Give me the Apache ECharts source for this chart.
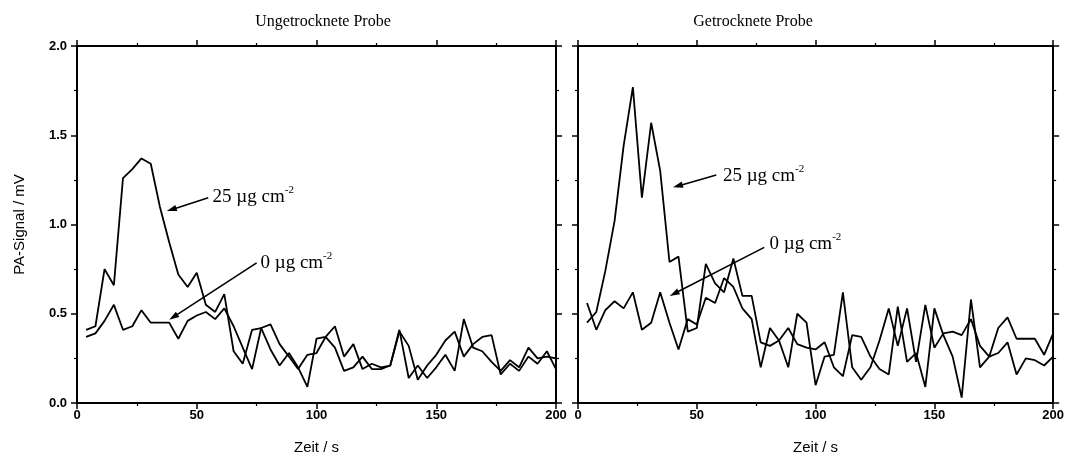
<!DOCTYPE html>
<html><head><meta charset="utf-8">
<script src="https://cdn.jsdelivr.net/npm/echarts@6/dist/echarts.min.js"></script>
<style>html,body{margin:0;padding:0;background:#fff}#c{width:1067px;height:463px}</style>
</head><body><div id="c"></div>
<script>
// Zeit / s (shared sampling grid)
const zeit = [3.8, 7.7, 11.5, 15.4, 19.2, 23.1, 26.9, 30.8, 34.6, 38.5, 42.3, 46.2, 50.0, 53.8, 57.7, 61.5, 65.4, 69.2, 73.1, 76.9,
  80.8, 84.6, 88.5, 92.3, 96.2, 100.0, 103.8, 107.7, 111.5, 115.4, 119.2, 123.1, 126.9, 130.8, 134.6, 138.5, 142.3, 146.2, 150.0, 153.8,
  157.7, 161.5, 165.4, 169.2, 173.1, 176.9, 180.8, 184.6, 188.5, 192.3, 196.2, 200.0];
// Ungetrocknete Probe
const ungetrocknet25 = [0.41,0.43,0.75,0.66,1.26,1.31,1.37,1.34,1.10,0.90, 0.72,0.65,0.73,0.55,0.51,0.61,0.29,0.22,0.41,0.42,
  0.30,0.21,0.28,0.20,0.09,0.36,0.37,0.43,0.26,0.33, 0.19,0.22,0.20,0.21,0.40,0.32,0.13,0.21,0.27,0.35,
  0.40,0.26,0.33,0.37,0.38,0.16,0.22,0.18,0.26,0.22, 0.29,0.19];
const ungetrocknet0 = [0.37,0.39,0.46,0.55,0.41,0.43,0.52,0.45,0.45,0.45, 0.36,0.46,0.49,0.51,0.47,0.53,0.43,0.31,0.19,0.42,
  0.44,0.33,0.26,0.19,0.27,0.28,0.37,0.31,0.18,0.20, 0.26,0.19,0.19,0.21,0.41,0.14,0.21,0.14,0.20,0.27,
  0.18,0.47,0.31,0.29,0.23,0.18,0.24,0.20,0.31,0.25, 0.26,0.25];
// Getrocknete Probe
const getrocknet25 = [0.45,0.51,0.74,1.02,1.44,1.77,1.15,1.57,1.30,0.79, 0.82,0.40,0.42,0.78,0.67,0.62,0.81,0.60,0.60,0.34,
  0.32,0.35,0.42,0.33,0.31,0.30,0.34,0.20,0.15,0.38, 0.37,0.26,0.19,0.16,0.54,0.23,0.28,0.09,0.53,0.38,
  0.26,0.03,0.58,0.20,0.26,0.28,0.34,0.16,0.25,0.24, 0.21,0.26];
const getrocknet0 = [0.56,0.41,0.52,0.57,0.53,0.62,0.41,0.45,0.62,0.45, 0.30,0.47,0.44,0.59,0.56,0.70,0.65,0.53,0.47,0.20,
  0.42,0.35,0.20,0.50,0.45,0.10,0.26,0.27,0.62,0.20, 0.13,0.20,0.35,0.53,0.32,0.53,0.23,0.55,0.31,0.39,
  0.40,0.38,0.47,0.32,0.26,0.42,0.48,0.36,0.36,0.36, 0.27,0.39];

const panelTitles = ['Ungetrocknete Probe', 'Getrocknete Probe'];
const xName = 'Zeit / s';
const yName = 'PA-Signal / mV';
// annotations: panel, label text, text anchor, arrow start, arrow tip (data coords)
const annotations = [
  {panel: 0, main: '25 µg cm', sup: '-2', text: [56.6, 1.152], from: [54.8, 1.15], to: [37.5, 1.075]},
  {panel: 0, main: '0 µg cm',  sup: '-2', text: [76.6, 0.785], from: [75.0, 0.785], to: [38.5, 0.466]},
  {panel: 1, main: '25 µg cm', sup: '-2', text: [61.0, 1.272], from: [58.2, 1.277], to: [40.0, 1.208]},
  {panel: 1, main: '0 µg cm',  sup: '-2', text: [80.6, 0.890], from: [78.4, 0.872], to: [38.6, 0.600]}
];

const SANS = '"Liberation Sans", Arial, sans-serif';
const SERIF = '"Liberation Serif", "Times New Roman", serif';
const chart = echarts.init(document.getElementById('c'));

function xAx(grid, pos, labels) {
  return {
    type: 'value', gridIndex: grid, position: pos, min: 0, max: 200, interval: 50,
    name: labels ? xName : '', nameLocation: 'middle', nameGap: 37,
    nameTextStyle: {fontFamily: SANS, fontSize: 15, color: '#000'},
    axisLine: {show: true, onZero: false, lineStyle: {color: '#000', width: 2}},
    axisTick: {show: true, inside: false, length: 6, lineStyle: {color: '#000', width: 1.5}},
    minorTick: {show: true, splitNumber: 2, length: 3, lineStyle: {color: '#000', width: 1.2}},
    axisLabel: {show: labels, margin: 6, fontFamily: SANS, fontWeight: 'bold', fontSize: 13, color: '#000'},
    splitLine: {show: false}, minorSplitLine: {show: false}
  };
}
function yAx(grid, pos, labels, name) {
  return {
    type: 'value', gridIndex: grid, position: pos, min: 0, max: 2, interval: 0.5,
    name: name ? yName : '', nameLocation: 'middle', nameGap: 50,
    nameTextStyle: {fontFamily: SANS, fontSize: 15, color: '#000'},
    axisLine: {show: true, onZero: false, lineStyle: {color: '#000', width: 2}},
    axisTick: {show: true, inside: false, length: 6, lineStyle: {color: '#000', width: 1.5}},
    minorTick: {show: true, splitNumber: 2, length: 3, lineStyle: {color: '#000', width: 1.2}},
    axisLabel: {show: labels, margin: 10, fontFamily: SANS, fontWeight: 'bold', fontSize: 13, color: '#000',
      formatter: v => v.toFixed(1)},
    splitLine: {show: false}, minorSplitLine: {show: false}
  };
}
function lineSeries(arr, xi, yi) {
  return {
    type: 'line', xAxisIndex: xi, yAxisIndex: yi, data: zeit.map((t, i) => [t, arr[i]]),
    symbol: 'none', smooth: false, clip: true, animation: false,
    lineStyle: {color: '#000', width: 1.8}
  };
}

chart.setOption({
  animation: false,
  backgroundColor: '#fff',
  title: [
    {text: panelTitles[0], left: 318, top: 9, textAlign: 'center',
     textStyle: {fontFamily: SERIF, fontSize: 16, fontWeight: 'normal', color: '#000'}},
    {text: panelTitles[1], left: 748, top: 9, textAlign: 'center',
     textStyle: {fontFamily: SERIF, fontSize: 16, fontWeight: 'normal', color: '#000'}}
  ],
  grid: [
    {left: 77, top: 46, width: 479, height: 357},
    {left: 578, top: 46, width: 477, height: 357}
  ],
  xAxis: [xAx(0, 'bottom', true), xAx(0, 'top', false), xAx(1, 'bottom', true), xAx(1, 'top', false)],
  yAxis: [yAx(0, 'left', true, true), yAx(0, 'right', false, false), yAx(1, 'left', false, false), yAx(1, 'right', false, false)],
  series: [
    lineSeries(ungetrocknet25, 0, 0),
    lineSeries(ungetrocknet0, 0, 0),
    lineSeries(getrocknet25, 2, 2),
    lineSeries(getrocknet0, 2, 2)
  ]
});

const graphics = [];
annotations.forEach(a => {
  const finder = a.panel === 0 ? {xAxisIndex: 0, yAxisIndex: 0} : {xAxisIndex: 2, yAxisIndex: 2};
  const p0 = chart.convertToPixel(finder, a.from);
  const p1 = chart.convertToPixel(finder, a.to);
  const pt = chart.convertToPixel(finder, a.text);
  const dx = p1[0] - p0[0], dy = p1[1] - p0[1];
  const L = Math.hypot(dx, dy), ux = dx / L, uy = dy / L;
  const hl = 10, hw = 3.2;
  const bx = p1[0] - ux * hl, by = p1[1] - uy * hl;
  graphics.push({type: 'line', shape: {x1: p0[0], y1: p0[1], x2: bx + ux * 2, y2: by + uy * 2},
    style: {stroke: '#000', lineWidth: 1.6}, z: 100});
  graphics.push({type: 'polygon', shape: {points: [[p1[0], p1[1]], [bx - uy * hw, by + ux * hw], [bx + uy * hw, by - ux * hw]]},
    style: {fill: '#000'}, z: 100});
  graphics.push({type: 'text', x: pt[0], y: pt[1], z: 100,
    style: {text: a.main + '{s|' + a.sup + '}', fontFamily: SERIF, fontSize: 19, fill: '#000',
      verticalAlign: 'middle', align: 'left',
      rich: {s: {fontFamily: SERIF, fontSize: 11, fill: '#000', padding: [0, 0, 14, 0]}}}});
});
chart.setOption({graphic: graphics});
</script></body></html>
